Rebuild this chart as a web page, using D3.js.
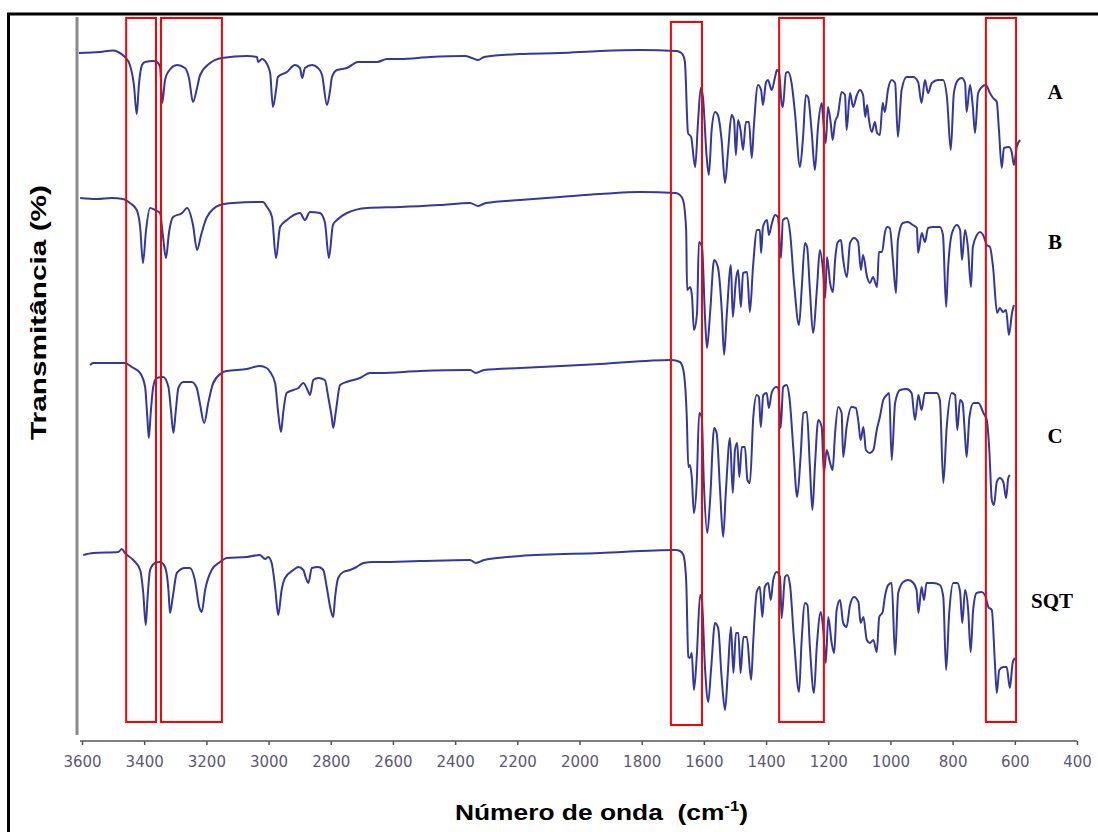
<!DOCTYPE html>
<html>
<head>
<meta charset="utf-8">
<script src="https://cdn.jsdelivr.net/npm/d3@7"></script>
<style>
  html, body { margin: 0; padding: 0; background: #fff; }
  svg { display: block; }
</style>
</head>
<body>
<div id="chart"></div>
<script>
// Espectros FTIR: [número de onda (cm-1), transmitância relativa (%)]
const specA = [[3610,95.5],[3542,96],[3500,96.7],[3484,96],[3462,93.5],[3446,89.5],[3433,79.5],[3424,65],[3417,79.5],[3407,89.5],[3397,91],[3372,91.5],[3359,91],[3349,88.5],[3342,70.5],[3333,82],[3323,86],[3294,89.5],[3269,88],[3256,83],[3243,71],[3230,78],[3220,84.5],[3188,90.5],[3150,93],[3069,94],[3037,93.5],[3034,91],[3021,92.5],[3011,91.5],[2995,85.5],[2986,68.5],[2976,77],[2970,83.5],[2941,86],[2915,89.5],[2899,88],[2892,83],[2883,88],[2860,89.5],[2841,88],[2828,84.5],[2812,69.5],[2802,77],[2796,83.5],[2780,87],[2748,88],[2712,91],[2651,91],[2619,92.5],[2577,92.5],[2481,93.5],[2368,94],[2346,93],[2326,92],[2307,93.5],[2191,95],[2063,95.5],[1934,96.5],[1805,97],[1690,96.5],[1677,96],[1667,94.5],[1661,91],[1651,55.5],[1641,53.5],[1628,38.5],[1619,60.5],[1610,78],[1603,73.5],[1591,43.5],[1584,34.5],[1575,57],[1564,66],[1555,64.5],[1543,52],[1532,30.5],[1522,47],[1511,64.5],[1503,62],[1497,44.5],[1490,62],[1482,57],[1474,47],[1465,61],[1455,61],[1446,43],[1439,59.5],[1426,79.5],[1416,77],[1410,69.5],[1400,81],[1394,82],[1382,77],[1371,83.5],[1365,87],[1358,85.5],[1350,70.5],[1346,68.5],[1336,85.5],[1329,86],[1318,80.5],[1307,65.5],[1291,38.5],[1281,53.5],[1272,74.5],[1265,73.5],[1253,55.5],[1243,37],[1233,58.5],[1221,70.5],[1217,63.5],[1208,50.5],[1201,68.5],[1192,60.5],[1186,52],[1178,61],[1169,64.5],[1157,76],[1146,74.5],[1141,57],[1130,75.5],[1120,68.5],[1108,74.5],[1098,77],[1088,74.5],[1081,63.5],[1075,69.5],[1069,62],[1060,56],[1050,61],[1043,55.5],[1034,54.5],[1025,70.5],[1018,66],[1008,77],[996,82],[985,80.5],[976,53.5],[964,77],[948,83.5],[927,83.5],[911,81],[900,70.5],[889,82],[879,75.5],[867,80.5],[847,82],[831,82],[818,73],[806,47],[796,75.5],[783,82],[771,83],[760,80.5],[755,66],[744,79.5],[735,68.5],[728,55.5],[718,75.5],[706,78.5],[693,79.5],[680,75.5],[670,73],[658,71],[651,57],[642,38],[635,48],[619,48.5],[610,46],[603,39.5],[594,48.5],[583,52]];

const specB = [[3606,96],[3552,95.5],[3504,96],[3468,95.5],[3446,93.5],[3424,90],[3413,81.5],[3404,63.5],[3394,80],[3381,91],[3365,90],[3349,88.5],[3340,77.5],[3330,66],[3320,79],[3307,86.5],[3278,88.5],[3262,91],[3243,82.5],[3230,70],[3217,77.5],[3198,86.5],[3156,92.5],[3114,93.5],[3018,94],[3005,91.5],[2989,86.5],[2976,66],[2963,81.5],[2941,85],[2899,88.5],[2883,85],[2867,89],[2835,88.5],[2819,84],[2806,66],[2793,82.5],[2780,85],[2748,88.5],[2683,91],[2577,91.5],[2449,92.5],[2352,93.5],[2326,92],[2301,93.5],[2191,95],[2063,96.5],[1934,98],[1805,99],[1690,98.5],[1677,97.5],[1667,95],[1657,80],[1654,50],[1644,51.5],[1638,46.5],[1632,30],[1622,38.5],[1616,74],[1606,71.5],[1596,35],[1590,21],[1580,38.5],[1567,65],[1555,61.5],[1542,38.5],[1535,17.5],[1526,38.5],[1513,62.5],[1507,36.5],[1497,55],[1490,60],[1481,41.5],[1474,58.5],[1461,59],[1452,39],[1442,61.5],[1429,80],[1420,80],[1416,68.5],[1410,81.5],[1397,85],[1391,77.5],[1381,83.5],[1371,87.5],[1362,86.5],[1352,66],[1346,85],[1333,86],[1323,79],[1310,53.5],[1294,32.5],[1285,51.5],[1275,73.5],[1268,71.5],[1259,50],[1249,28.5],[1236,51.5],[1227,70],[1217,60],[1210,46],[1204,66.5],[1194,53.5],[1185,49],[1178,65],[1169,74],[1159,75],[1153,66.5],[1140,56.5],[1130,73.5],[1117,76],[1104,74],[1095,60],[1088,67.5],[1075,56.5],[1066,53.5],[1056,56.5],[1043,51.5],[1037,69],[1027,69],[1018,78.5],[1011,81.5],[1002,81],[992,65],[982,48.5],[976,75],[960,83.5],[944,84],[928,82.5],[915,81],[911,68.5],[899,78.5],[889,74],[879,81],[863,81.5],[841,81.5],[831,77.5],[821,41.5],[815,60],[802,78.5],[786,82.5],[776,80],[770,65],[760,80],[751,71.5],[741,51.5],[735,71.5],[722,77.5],[712,79],[702,77.5],[690,72.5],[680,71.5],[670,61.5],[657,38.5],[648,41],[638,39],[628,40],[619,27.5],[609,38.5],[603,42.5]];

const specC = [[3574,97.5],[3564,98.5],[3462,98.5],[3440,96.5],[3413,93.5],[3397,86.5],[3390,71.5],[3385,61],[3379,73.5],[3371,86.5],[3360,91],[3339,91.5],[3322,86.5],[3314,75],[3306,63.5],[3299,73.5],[3290,86],[3274,89],[3247,89],[3231,86],[3221,78.5],[3207,68.5],[3194,78.5],[3178,88.5],[3151,93.5],[3135,94.5],[3070,95.5],[3028,97],[3006,96],[2995,94],[2979,88.5],[2969,73.5],[2960,64],[2953,73.5],[2942,83.5],[2920,85],[2904,86],[2888,88.5],[2872,84],[2867,82.5],[2856,90],[2840,91],[2819,90],[2808,81.5],[2797,71.5],[2792,66],[2783,75],[2770,87.5],[2749,89],[2706,91],[2674,93.5],[2642,93.5],[2513,94.5],[2352,95],[2333,93.5],[2307,95],[2191,96],[1934,98],[1704,100],[1677,99],[1666,95],[1655,71.5],[1650,46.5],[1645,47.5],[1639,41.5],[1632,23.5],[1623,38.5],[1615,73.5],[1607,71.5],[1600,38.5],[1589,13.5],[1580,30],[1567,66],[1559,63.5],[1548,35],[1538,11.5],[1529,35],[1516,61],[1507,33.5],[1500,55],[1493,58.5],[1486,41.5],[1478,56.5],[1468,56.5],[1460,40],[1452,38.5],[1441,71.5],[1430,82.5],[1423,81.5],[1417,66.5],[1409,82.5],[1398,83.5],[1391,76],[1382,83.5],[1368,86.5],[1361,86],[1353,66],[1345,86.5],[1334,87.5],[1325,81.5],[1312,55],[1300,31.5],[1289,51.5],[1280,73.5],[1269,74],[1259,46.5],[1251,25],[1243,46.5],[1232,70],[1221,66.5],[1214,43.5],[1205,55],[1194,48.5],[1186,45],[1178,63.5],[1168,76.5],[1157,73.5],[1152,51.5],[1141,66.5],[1125,76.5],[1111,76],[1103,69],[1096,60],[1087,66.5],[1079,55],[1066,53.5],[1055,55],[1044,65],[1034,71.5],[1023,80],[1012,82.5],[1004,83.5],[996,50],[985,78.5],[969,85],[948,85.5],[932,83.5],[921,70],[910,82.5],[900,75],[889,83.5],[851,83.5],[841,80],[830,38.5],[819,66.5],[803,83.5],[792,82.5],[785,65],[776,80],[768,78.5],[760,61.5],[755,51.5],[746,71.5],[733,78.5],[717,78.5],[701,73.5],[690,70],[682,55],[674,30],[667,27.5],[658,39],[648,41],[637,39],[628,31],[621,41],[616,42.5]];

const specSQT = [[3596,95],[3564,96],[3483,96.5],[3472,98],[3462,96],[3435,92.5],[3413,87.5],[3403,76],[3395,60],[3389,74],[3381,87.5],[3365,91],[3349,91.5],[3333,89],[3322,77.5],[3317,66],[3308,74],[3295,86],[3269,88.5],[3253,88.5],[3237,82.5],[3223,69],[3215,66.5],[3204,77.5],[3183,87.5],[3156,91.5],[3135,93.5],[3070,94],[3028,95],[3011,93],[3001,94],[2990,91],[2979,79],[2969,65],[2958,77.5],[2947,83.5],[2920,87.5],[2904,89],[2888,87.5],[2880,83.5],[2872,81],[2861,88.5],[2840,89],[2824,87.5],[2813,79],[2800,67.5],[2792,64],[2786,74],[2776,83.5],[2760,86.5],[2738,87.5],[2717,89],[2695,91],[2663,91.5],[2642,91.5],[2513,92],[2352,92.5],[2333,91],[2307,92.5],[2191,94.5],[1934,96],[1690,97.5],[1677,97],[1666,95],[1657,82.5],[1650,44],[1645,43.5],[1639,46],[1632,27.5],[1623,44],[1612,75],[1607,73.5],[1596,37.5],[1586,21.5],[1577,37.5],[1564,61],[1554,58.5],[1543,34],[1532,17.5],[1523,36],[1513,59],[1505,36],[1497,56],[1489,56],[1482,36],[1473,54],[1462,54],[1448,32.5],[1441,52.5],[1430,76.5],[1420,79],[1412,64],[1404,79],[1393,81],[1385,72.5],[1377,82.5],[1366,86.5],[1355,84],[1350,63.5],[1339,84],[1332,85],[1323,80],[1310,52.5],[1294,26.5],[1286,51],[1275,71],[1267,70],[1259,49],[1246,26],[1237,49],[1224,66.5],[1216,57.5],[1208,41],[1200,64],[1189,51],[1181,46],[1173,67.5],[1162,72.5],[1152,61],[1141,59],[1130,70],[1117,74],[1103,71.5],[1096,61],[1087,64],[1076,52.5],[1066,51],[1055,52.5],[1044,46.5],[1036,64],[1025,66.5],[1018,74],[1007,80],[996,81],[985,45],[975,76],[959,81.5],[943,82.5],[926,81],[916,77.5],[910,66],[900,79],[892,72.5],[884,81],[862,81],[841,80],[830,74],[821,37.5],[811,66],[798,81],[785,81],[776,76.5],[769,61],[760,77.5],[750,67.5],[742,46.5],[734,67.5],[723,76],[707,76.5],[696,75],[685,69],[674,67.5],[664,41],[658,26],[650,37.5],[637,39],[626,39],[616,28.5],[607,41],[600,43.5]];

const seriesNames = ["A", "B", "C", "SQT"];
const xTicks = [3600, 3400, 3200, 3000, 2800, 2600, 2400, 2200, 2000, 1800, 1600, 1400, 1200, 1000, 800, 600, 400];
// regiões destacadas (cm-1)
const regions = [[3458, 3362], [3346, 3150], [1706, 1606], [1358, 1214], [693, 596]];

const width = 1098, height = 832;
const offsets = [245.5, 172.5, 87.5, -5];   // empilhamento vertical dos espectros
const labelPos = [[1055, 99], [1055, 249], [1055, 443], [1052, 608]];

const svg = d3.select("#chart").append("svg")
    .attr("width", width)
    .attr("height", height);

const x = d3.scaleLinear().domain([3600, 400]).range([82, 1077]);
const y = d3.scaleLinear().domain([0, 359]).range([735, 17]);

// moldura
svg.append("rect")
    .attr("x", 8.5).attr("y", 14)
    .attr("width", 1200).attr("height", 1000)
    .attr("fill", "none")
    .attr("stroke", "#000")
    .attr("stroke-width", 3);

// eixo y (linha cinza)
svg.append("line")
    .attr("x1", 77).attr("x2", 77)
    .attr("y1", 17).attr("y2", 735)
    .attr("stroke", "#8a8a8a")
    .attr("stroke-width", 3);

// eixo x
const xAxis = svg.append("g")
    .attr("transform", "translate(0,741)")
    .call(d3.axisBottom(x).tickValues(xTicks).tickFormat(d3.format("d"))
        .tickSize(4).tickPadding(11).tickSizeOuter(0));
xAxis.select(".domain").attr("stroke", "#555").attr("stroke-width", 1.5)
    .attr("d", `M${x(3600) - 2},0H${x(400)}`);
xAxis.selectAll(".tick line").attr("stroke", "#555").attr("stroke-width", 1.5);
xAxis.selectAll(".tick text")
    .attr("fill", "#5b5878")
    .style("font-family", "'DejaVu Sans', Verdana, sans-serif")
    .style("font-size", "15px");

// espectros
const line = d3.line().x(d => x(d[0])).curve(d3.curveMonotoneX);
[specA, specB, specC, specSQT].forEach((spec, i) => {
    svg.append("path")
        .datum(spec)
        .attr("fill", "none")
        .attr("stroke", "#33389c")
        .attr("stroke-width", 2)
        .attr("stroke-linejoin", "round")
        .attr("d", line.y(d => y(d[1] + offsets[i])));
});

// regiões em vermelho
svg.append("g")
    .selectAll("rect")
    .data(regions)
    .join("rect")
    .attr("x", d => x(d[0]))
    .attr("y", (d, i) => i === 2 ? y(356.5) : y(358.5))
    .attr("width", d => x(d[1]) - x(d[0]))
    .attr("height", (d, i) => i === 2 ? y(5) - y(356.5) : y(6.5) - y(358.5))
    .attr("fill", "none")
    .attr("stroke", "#ff0000")
    .attr("stroke-width", 2);

// rótulos dos espectros
svg.append("g")
    .selectAll("text")
    .data(seriesNames)
    .join("text")
    .attr("x", (d, i) => labelPos[i][0])
    .attr("y", (d, i) => labelPos[i][1])
    .attr("text-anchor", "middle")
    .style("font-family", "'Liberation Serif', 'Times New Roman', serif")
    .style("font-weight", "bold")
    .style("font-size", "21px")
    .text(d => d);

// títulos dos eixos
const xt = svg.append("text")
    .attr("x", 455).attr("y", 820)
    .attr("textLength", 293)
    .attr("lengthAdjust", "spacingAndGlyphs")
    .style("white-space", "pre")
    .style("font-family", "'Liberation Sans', Arial, sans-serif")
    .style("font-weight", "bold")
    .style("font-size", "22px");
xt.append("tspan").text("Número de onda  (cm");
xt.append("tspan").attr("dy", -9).style("font-size", "14px").text("-1");
xt.append("tspan").attr("dy", 9).text(")");

svg.append("text")
    .attr("transform", "translate(46,440) rotate(-90)")
    .attr("textLength", 255)
    .attr("lengthAdjust", "spacingAndGlyphs")
    .style("font-family", "'Liberation Sans', Arial, sans-serif")
    .style("font-weight", "bold")
    .style("font-size", "22px")
    .text("Transmitância (%)");
</script>
</body>
</html>
